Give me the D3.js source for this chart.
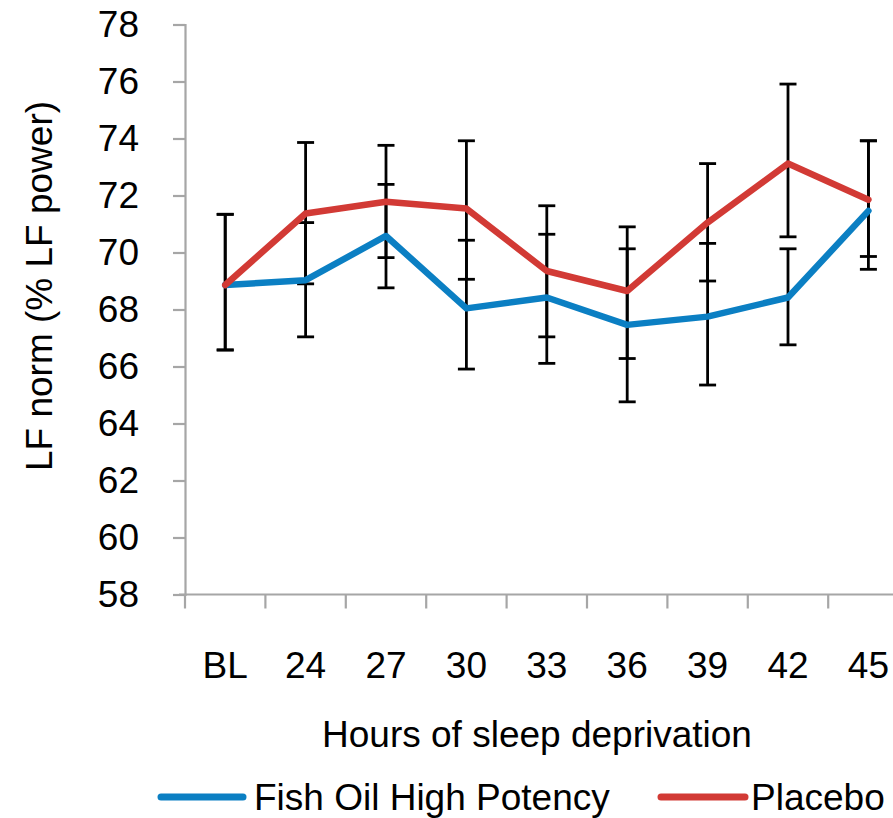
<!DOCTYPE html>
<html>
<head>
<meta charset="utf-8">
<script src="https://cdn.jsdelivr.net/npm/d3@7/dist/d3.min.js"></script>
<style>
  html, body { margin: 0; padding: 0; background: #fff; }
  svg { display: block; }
  text { font-family: "Liberation Sans", Arial, Helvetica, sans-serif; fill: #000; }
</style>
</head>
<body>
<svg id="chart" width="893" height="818"></svg>
<script>
// ---- data ----
const categories = ["BL", "24", "27", "30", "33", "36", "39", "42", "45"];
const yTicks = [58, 60, 62, 64, 66, 68, 70, 72, 74, 76, 78];

const fishOilMean  = [68.86, 69.03, 70.58, 68.04, 68.42, 67.46, 67.75, 68.42, 71.46];
const fishOilUpper = [71.34, 71.05, 72.39, 70.43, 70.64, 70.13, 70.32, 70.13, 73.92];
const fishOilLower = [66.58, 67.04, 68.76, 65.91, 66.11, 64.76, 65.35, 66.76, 69.41];

const placeboMean  = [68.86, 71.37, 71.78, 71.54, 69.35, 68.65, 71.05, 73.12, 71.85];
const placeboUpper = [71.34, 73.86, 73.76, 73.92, 71.64, 70.90, 73.12, 75.91, 73.92];
const placeboLower = [66.58, 68.90, 69.82, 69.06, 67.04, 66.28, 69.00, 70.55, 69.86];

const seriesNames = ["Fish Oil High Potency", "Placebo"];

// ---- layout ----
const svg = d3.select("#chart");
const axisColor = "#a6a6a6";
const colors = ["#0b7fc3", "#d23a35"];
const fontSize = 37;

const x = d3.scaleBand().domain(categories).range([185, 908.6]).padding(0);
const y = d3.scaleLinear().domain([58, 78]).range([594.5, 24.5]);
const cx = c => x(c) + x.bandwidth() / 2;

const series = [
  { name: seriesNames[0], mean: fishOilMean, upper: fishOilUpper, lower: fishOilLower, color: colors[0] },
  { name: seriesNames[1], mean: placeboMean, upper: placeboUpper, lower: placeboLower, color: colors[1] }
];

// ---- y axis ----
const yAxis = d3.axisLeft(y).tickValues(yTicks).tickSize(12).tickPadding(34).tickFormat(d3.format("d"));
const gy = svg.append("g").attr("transform", "translate(185,0)").call(yAxis);
gy.select(".domain").attr("stroke", axisColor).attr("stroke-width", 2.2);
gy.selectAll(".tick line").attr("stroke", axisColor).attr("stroke-width", 2.2);
gy.selectAll(".tick text").attr("font-size", fontSize).attr("fill", "#000")
  .style("font-family", '"Liberation Sans", Arial, sans-serif');

// ---- x axis ----
const gx = svg.append("g").attr("transform", `translate(0,${y(58)})`);
gx.append("line").attr("x1", 179).attr("x2", x.range()[1]).attr("y1", 0).attr("y2", 0)
  .attr("stroke", axisColor).attr("stroke-width", 2.2);
const edges = categories.map(c => x(c)).concat([x.range()[1]]);
gx.selectAll("line.tk").data(edges).join("line").attr("class", "tk")
  .attr("x1", d => d).attr("x2", d => d).attr("y1", 0).attr("y2", 14)
  .attr("stroke", axisColor).attr("stroke-width", 2.2);
gx.selectAll("text.lab").data(categories).join("text").attr("class", "lab")
  .attr("x", d => cx(d)).attr("y", 83).attr("text-anchor", "middle")
  .attr("font-size", fontSize).text(d => d);

// ---- error bars ----
const capHalf = 8.5;
series.forEach(s => {
  const g = svg.append("g").attr("stroke", "#000").attr("stroke-width", 2.8).attr("fill", "none");
  categories.forEach((c, i) => {
    const px = cx(c);
    g.append("line").attr("x1", px).attr("x2", px).attr("y1", y(s.upper[i])).attr("y2", y(s.lower[i]));
    g.append("line").attr("x1", px - capHalf).attr("x2", px + capHalf).attr("y1", y(s.upper[i])).attr("y2", y(s.upper[i]));
    g.append("line").attr("x1", px - capHalf).attr("x2", px + capHalf).attr("y1", y(s.lower[i])).attr("y2", y(s.lower[i]));
  });
});

// ---- lines ----
const line = d3.line().x((d, i) => cx(categories[i])).y(d => y(d));
series.forEach(s => {
  svg.append("path").datum(s.mean).attr("d", line)
    .attr("fill", "none").attr("stroke", s.color).attr("stroke-width", 6.5)
    .attr("stroke-linejoin", "round").attr("stroke-linecap", "round");
});

// ---- axis titles ----
svg.append("text").attr("x", 537).attr("y", 747).attr("text-anchor", "middle")
  .attr("font-size", fontSize).text("Hours of sleep deprivation");
svg.append("text").attr("transform", "translate(52,286) rotate(-90)").attr("text-anchor", "middle")
  .attr("font-size", fontSize).text("LF norm (% LF power)");

// ---- legend ----
const legendItems = [
  { name: seriesNames[0], color: colors[0], x1: 161, x2: 243, tx: 254 },
  { name: seriesNames[1], color: colors[1], x1: 661, x2: 745, tx: 751 }
];
const lg = svg.append("g");
legendItems.forEach(it => {
  lg.append("line").attr("x1", it.x1).attr("x2", it.x2).attr("y1", 797).attr("y2", 797)
    .attr("stroke", it.color).attr("stroke-width", 7).attr("stroke-linecap", "round");
  lg.append("text").attr("x", it.tx).attr("y", 810).attr("font-size", fontSize).text(it.name);
});
</script>
</body>
</html>
